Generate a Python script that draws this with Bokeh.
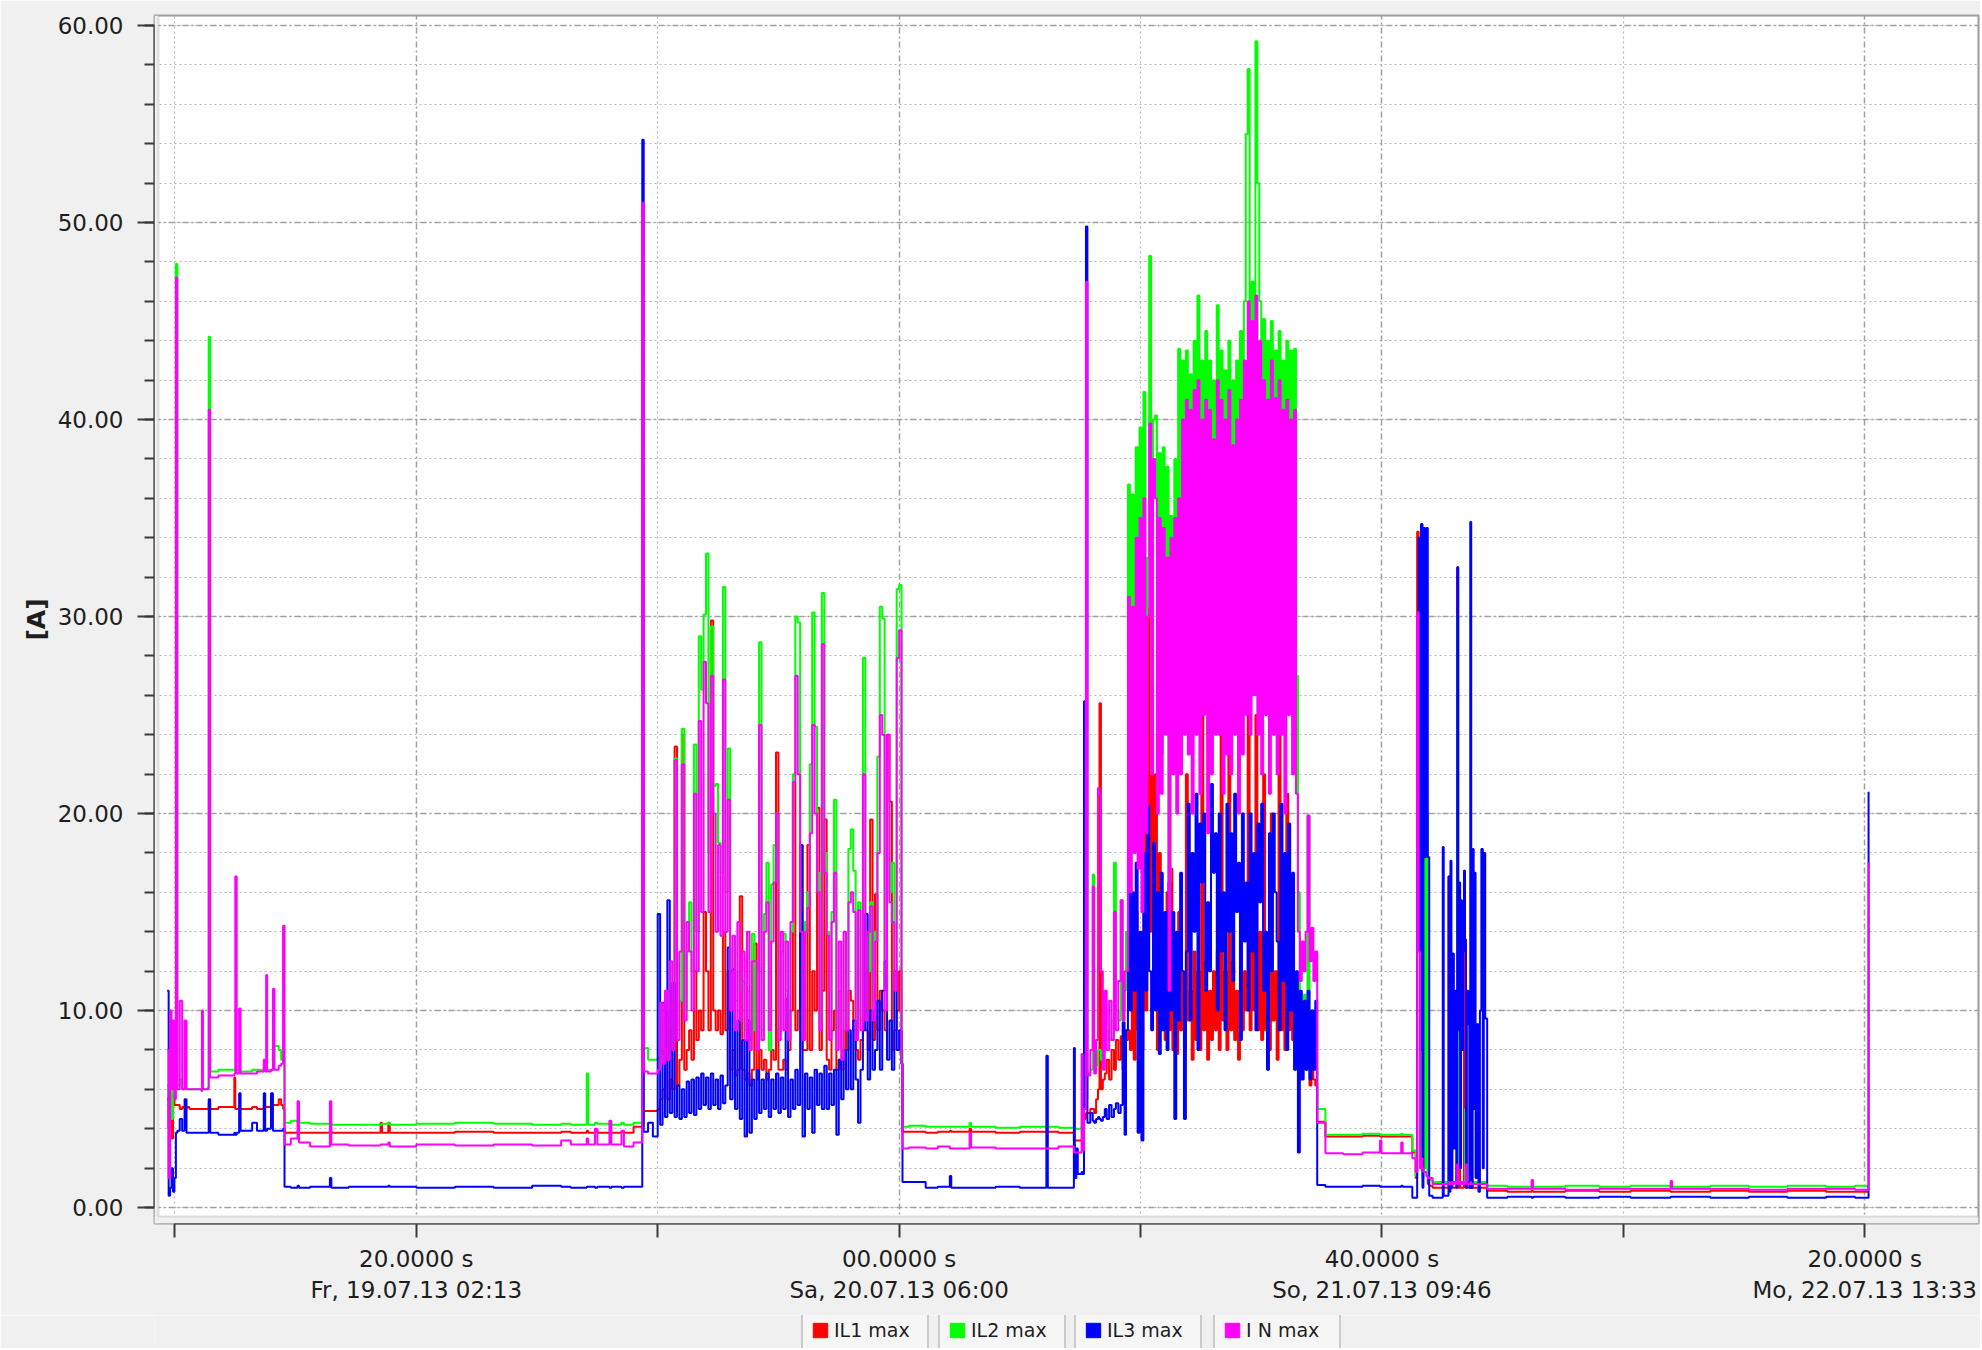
from bokeh.plotting import figure
from bokeh.layouts import column
from bokeh.models import (Range1d, FixedTicker, PrintfTickFormatter, BoxAnnotation,
                          Legend, LegendItem, ColumnDataSource)
from bokeh.embed import file_html
from bokeh.resources import INLINE

# ---------------------------------------------------------------- labels / ticks
SERIES = ["IL1 max", "IL2 max", "IL3 max", "I N max"]
COLORS = ["#ff0000", "#00ff00", "#0000ff", "#ff00ff"]
Y_LABEL = "[A]"
# time axis in ks (1000 s) after Do 18.07.13 12:20:00
X_TICKS = [0, 50, 100, 150, 200, 250, 300, 350]
X_TICK_LABELS = {0: "", 50: "20.0000 s\nFr, 19.07.13 02:13", 100: "",
                 150: "00.0000 s\nSa, 20.07.13 06:00", 200: "",
                 250: "40.0000 s\nSo, 21.07.13 09:46", 300: "",
                 350: "20.0000 s\nMo, 22.07.13 13:33"}
X_GRID_MAJOR = [50, 150, 250, 350]
X_GRID_MINOR = [0, 100, 200, 300]
Y_TICKS = [0, 10, 20, 30, 40, 50, 60]
Y_MINOR = [0, 2, 4, 6, 8, 10, 12, 14, 16, 18, 20, 22, 24, 26, 28, 30, 32, 34, 36,
           38, 40, 42, 44, 46, 48, 50, 52, 54, 56, 58, 60]

# ---------------------------------------------------------------- data
# A: start (explicit times, ks)
A_T   = [-1.6, -1.3, -1.0, -0.7, -0.4, -0.1, 0.2, 0.5, 1.0, 1.5, 2.0, 2.4, 3.0, 5.5, 5.6, 5.8, 6.8, 7.0, 7.3,
         9.0, 12.3, 12.5, 12.8, 13.3, 13.6, 16.0, 17.0, 18.4, 18.7, 18.9, 19.1, 19.9, 20.3, 20.6, 21.5, 22.0, 22.4]
A_IL1 = [5.5, 4.0, 5.8, 3.5, 5.5, 5.2, 5.2, 5.2, 5.0, 5.1, 5.0, 5.1, 5.0, 5.0, 5.0, 5.0, 5.0, 5.3, 5.0,
         5.1, 6.6, 5.0, 5.0, 5.0, 5.0, 5.1, 5.0, 5.2, 5.1, 5.1, 5.1, 5.2, 5.2, 5.2, 5.5, 5.2, 5.0]
A_IL2 = [6.2, 5.0, 6.5, 4.5, 6.0, 6.2, 47.9, 6.2, 6.5, 6.0, 6.0, 6.0, 6.0, 6.0, 6.0, 6.0, 6.1, 44.2, 6.9,
         7.0, 7.0, 7.0, 7.0, 7.0, 6.9, 7.0, 7.0, 7.0, 7.0, 7.0, 7.0, 7.0, 7.0, 8.2, 8.0, 7.5, 7.6]
A_IL3 = [11.0, 0.6, 1.0, 2.0, 0.8, 1.5, 3.8, 3.9, 4.5, 3.9, 5.5, 3.8, 3.8, 3.8, 3.8, 3.8, 3.8, 5.5, 3.8,
         3.7, 3.8, 3.7, 3.8, 5.8, 3.9, 4.3, 3.9, 5.8, 3.9, 3.9, 4.0, 5.8, 3.9, 3.9, 3.9, 3.9, 4.0]
A_IN  = [8.0, 1.5, 10.0, 6.0, 9.5, 5.5, 47.2, 6.0, 10.5, 6.0, 9.5, 6.0, 6.0, 5.9, 10.0, 6.0, 6.0, 40.5, 6.6,
         6.7, 6.8, 16.8, 6.8, 10.1, 6.8, 6.8, 6.9, 7.5, 6.9, 11.8, 6.9, 7.0, 11.1, 7.0, 7.2, 7.3, 14.3]

# B: night 1 (explicit times)
B_T   = [22.7, 24.0, 25.4, 25.7, 28.0, 32.1, 32.4, 36.0, 42.6, 42.9, 44.2, 44.5, 50.0, 58.0, 66.0, 74.0,
         80.0, 82.0, 85.3, 85.6, 87.0, 87.5, 90.0, 90.4, 92.5, 93.0, 95.0, 96.8, 97.1, 98.0, 99.0]
B_IL1 = [3.8, 3.8, 3.9, 3.8, 3.8, 3.9, 3.8, 3.8, 4.3, 3.8, 4.3, 3.8, 3.8, 3.85, 3.8, 3.8,
         3.85, 3.8, 3.9, 3.8, 3.9, 3.8, 3.8, 3.8, 3.85, 3.8, 4.1, 4.2, 4.9, 4.9, 4.9]
B_IL2 = [4.3, 4.4, 4.3, 4.3, 4.25, 4.3, 4.2, 4.2, 4.2, 4.25, 4.3, 4.2, 4.25, 4.3, 4.25, 4.2,
         4.25, 4.2, 6.8, 4.2, 4.3, 4.25, 4.2, 4.2, 4.3, 4.2, 4.3, 4.3, 8.1, 7.5, 7.5]
B_IL3 = [1.05, 1.0, 1.1, 1.0, 1.05, 1.5, 1.0, 1.05, 1.05, 1.05, 1.1, 1.05, 1.0, 1.05, 1.0, 1.1,
         1.05, 1.0, 1.05, 1.05, 1.0, 1.05, 1.0, 1.05, 1.0, 1.05, 1.05, 54.2, 3.85, 4.3, 3.6]
B_IN  = [3.2, 3.5, 5.4, 3.3, 3.1, 5.4, 3.2, 3.15, 3.2, 3.2, 3.3, 3.1, 3.2, 3.15, 3.2, 3.15,
         3.4, 3.2, 3.5, 3.2, 4.0, 3.2, 4.4, 3.2, 3.9, 3.1, 3.3, 51.0, 6.9, 6.8, 6.8]

# C: day 1, logged every C_DT ks from C_T0
C_T0, C_DT = 100.0, 0.5
C_IL1 = [5.0, 5.5, 6.0, 9.9, 5.5, 6.5, 6.0, 23.4, 6.2, 7.5,
         24.0, 7.0, 8.0, 9.0, 7.5, 12.0, 8.5, 10.0, 9.0, 15.0,
         12.0, 9.0, 29.8, 10.0, 9.0, 10.0, 8.8, 14.0, 9.0, 12.0,
         7.0, 8.0, 6.7, 7.0, 15.8, 7.0, 6.5, 6.8, 6.2, 7.0,
         13.4, 6.5, 8.0, 7.0, 7.5, 6.5, 7.0, 8.0, 7.5, 23.1,
         7.0, 7.0, 7.5, 7.0, 8.0, 10.0, 21.6, 9.0, 10.0, 18.4,
         8.0, 8.0, 18.4, 8.0, 12.0, 10.0, 20.3, 8.0, 11.0, 19.7,
         7.5, 7.0, 9.0, 10.0, 7.0, 7.5, 7.0, 9.0, 8.0, 11.0,
         10.5, 9.0, 8.0, 7.5, 8.5, 10.0, 9.0, 8.0, 19.7, 8.5,
         15.9, 9.0, 11.0, 10.0, 9.0, 24.0, 20.6, 8.0, 9.0, 10.0,
         12.0, 7.3]
C_IL2 = [7.6, 8.0, 7.8, 9.5, 8.2, 9.0, 8.0, 22.8, 9.0, 10.5,
         24.3, 10.0, 13.0, 15.5, 12.0, 23.5, 14.0, 29.0, 26.3, 30.1,
         33.2, 18.0, 29.5, 21.4, 21.5, 18.5, 17.0, 31.5, 16.0, 23.3,
         12.0, 13.5, 10.5, 12.0, 11.0, 11.5, 9.0, 11.0, 8.5, 13.9,
         9.0, 12.0, 28.7, 9.0, 14.9, 17.5, 8.0, 16.4, 18.4, 20.0,
         9.0, 13.0, 13.9, 11.0, 8.5, 14.0, 22.0, 30.0, 29.7, 15.0,
         9.0, 14.5, 16.0, 22.5, 30.2, 24.4, 17.0, 9.5, 31.2, 18.0,
         14.0, 9.0, 15.0, 20.7, 9.0, 11.0, 8.0, 13.5, 9.5, 18.2,
         19.2, 17.1, 9.0, 15.5, 9.5, 27.9, 10.0, 12.0, 15.5, 10.0,
         14.0, 22.9, 30.5, 29.9, 11.0, 20.0, 16.0, 17.5, 12.0, 31.4,
         31.6, 8.0]
C_IL3 = [14.9, 4.2, 10.4, 4.6, 15.6, 4.8, 11.4, 4.6, 6.2, 4.5,
         6.0, 4.6, 6.4, 4.8, 6.5, 4.7, 6.6, 5.0, 6.8, 5.2,
         6.6, 5.0, 6.8, 5.2, 6.5, 5.0, 6.7, 5.3, 6.2, 13.2,
         5.5, 12.1, 5.0, 9.5, 4.5, 8.5, 3.6, 9.5, 3.8, 6.5,
         4.5, 7.0, 4.8, 6.5, 5.0, 6.8, 4.6, 6.5, 5.0, 6.8,
         4.8, 6.6, 5.0, 10.6, 4.6, 6.5, 5.0, 7.0, 5.2, 18.4,
         3.6, 6.8, 5.0, 6.6, 3.8, 7.0, 5.2, 6.8, 5.0, 7.2,
         5.0, 6.8, 5.2, 7.0, 3.7, 7.5, 5.5, 8.0, 6.0, 9.0,
         6.0, 9.5, 6.5, 4.3, 7.0, 9.0, 14.9, 6.5, 10.0, 7.0,
         8.0, 10.5, 7.0, 11.0, 12.5, 7.5, 9.5, 7.0, 12.0, 8.0,
         9.0, 7.3]
C_IN  = [7.0, 10.4, 7.3, 11.0, 7.5, 12.5, 8.0, 22.7, 8.5, 13.0,
         22.5, 9.5, 14.5, 13.0, 10.0, 21.0, 12.0, 24.7, 15.0, 27.7,
         25.6, 15.0, 27.0, 20.0, 14.0, 18.4, 13.8, 26.8, 14.0, 20.7,
         10.0, 13.8, 9.0, 14.5, 9.5, 13.0, 8.5, 14.0, 8.0, 12.5,
         12.5, 8.0, 24.5, 8.5, 14.0, 15.5, 9.0, 13.5, 16.5, 20.0,
         8.5, 14.0, 9.0, 13.5, 8.5, 14.5, 21.6, 27.0, 22.0, 14.0,
         8.5, 14.0, 15.2, 19.0, 24.5, 20.0, 16.0, 9.0, 28.6, 17.0,
         13.8, 8.5, 14.5, 17.0, 8.0, 13.5, 7.5, 14.0, 9.0, 15.5,
         16.0, 15.0, 8.5, 15.1, 9.0, 22.0, 9.5, 14.0, 15.3, 9.5,
         13.5, 18.0, 25.0, 24.0, 10.0, 24.0, 15.5, 14.5, 11.0, 27.9,
         29.3, 7.3]

# D: night 2 (explicit times)
D_T   = [150.7, 152.0, 155.5, 158.0, 160.5, 160.8, 164.6, 164.9, 170.0, 175.0, 180.5, 180.8, 183.0]
D_IL1 = [3.85, 3.85, 3.8, 3.85, 3.9, 3.85, 4.0, 3.85, 3.8, 3.85, 3.85, 3.85, 3.8]
D_IL2 = [4.1, 4.15, 4.1, 4.1, 4.1, 4.1, 4.3, 4.1, 4.05, 4.1, 4.1, 4.1, 4.05]
D_IL3 = [1.3, 1.3, 1.0, 1.05, 1.6, 1.0, 1.0, 1.0, 1.05, 1.0, 7.7, 1.0, 1.0]
D_IN  = [3.0, 3.05, 3.0, 3.1, 3.0, 3.0, 3.8, 3.05, 3.0, 3.0, 3.0, 3.0, 3.1]

# E1: morning ramp day 2 (explicit times)
E1_T   = [186.2, 186.4, 186.7, 187.0, 187.8, 188.0, 188.3, 188.7, 189.0, 189.6, 190.1, 190.4, 190.8, 191.2,
          191.5, 191.8, 192.2, 192.6, 193.0, 193.5, 194.0, 194.5, 194.9, 195.4, 195.9, 196.3, 196.7]
E1_IL1 = [3.4, 3.4, 3.4, 3.4, 3.5, 3.5, 4.5, 4.8, 4.8, 5.0, 5.0, 4.8, 5.5, 6.0,
          25.6, 6.0, 6.5, 6.8, 7.5, 6.5, 8.0, 7.0, 8.5, 7.5, 8.7, 7.0, 8.5]
E1_IL2 = [4.0, 4.0, 4.0, 4.0, 4.1, 4.0, 5.0, 5.5, 6.8, 7.0, 16.9, 7.0, 7.2, 8.0,
          8.0, 7.5, 8.0, 8.5, 9.0, 8.5, 9.5, 17.5, 10.0, 9.5, 15.6, 10.0, 11.0]
E1_IL3 = [8.1, 1.5, 3.0, 1.7, 1.8, 1.7, 25.7, 49.8, 4.3, 4.8, 4.4, 4.3, 4.5, 4.6,
          4.5, 4.4, 4.6, 5.0, 4.5, 5.2, 4.6, 5.0, 5.3, 4.8, 5.2, 9.4, 3.7]
E1_IN  = [2.8, 2.8, 2.8, 2.8, 7.8, 2.9, 5.0, 47.0, 6.7, 8.0, 16.3, 6.8, 8.5, 21.3,
          21.0, 12.0, 7.0, 11.0, 8.0, 10.5, 8.5, 15.0, 9.0, 11.5, 15.6, 9.5, 12.0]

# E2: day 2 busy period, logged every E2_DT ks from E2_T0
E2_T0, E2_DT = 197.0, 0.4
E2_IL1 = [8.5, 9.0, 8.0, 12.0, 7.5, 15.0, 9.0, 11.0, 8.0, 20.0,
          10.0, 30.4, 14.0, 26.6, 11.0, 22.0, 8.0, 18.0, 9.0, 13.0,
          8.5, 16.0, 9.0, 17.2, 8.0, 12.0, 7.8, 15.0, 9.0, 12.0,
          8.0, 22.0, 9.5, 11.0, 7.5, 13.0, 8.5, 12.0, 8.0, 28.0,
          9.0, 12.5, 7.5, 11.0, 8.5, 12.0, 9.0, 13.0, 8.0, 25.0,
          9.5, 12.0, 8.0, 30.2, 9.0, 12.5, 8.5, 11.0, 7.5, 14.0,
          9.0, 12.0, 10.0, 27.7, 9.0, 13.0, 10.0, 25.0, 9.0, 14.0,
          8.5, 22.0, 9.0, 12.0, 8.0, 20.0, 9.5, 12.0, 7.5, 26.0,
          9.0, 13.0, 8.0, 21.0, 9.0, 12.0, 8.5, 11.0, 7.5]
E2_IL2 = [14.0, 36.7, 18.0, 36.2, 20.0, 38.6, 19.0, 39.6, 17.0, 41.4,
          22.0, 33.0, 48.3, 24.0, 40.0, 40.2, 23.0, 38.3, 23.0, 38.6,
          26.0, 37.6, 14.0, 35.1, 25.0, 38.0, 23.0, 43.6, 28.0, 43.0,
          27.0, 43.5, 30.0, 42.3, 25.0, 44.0, 29.0, 46.3, 28.0, 43.0,
          31.0, 44.5, 24.0, 43.0, 29.0, 42.0, 27.0, 45.8, 32.0, 43.5,
          26.0, 42.5, 30.0, 44.0, 28.0, 42.0, 31.0, 43.0, 25.0, 44.5,
          29.0, 46.0, 54.5, 57.8, 31.0, 47.0, 35.0, 59.2, 52.0, 46.0,
          29.0, 45.1, 36.0, 44.0, 27.0, 45.0, 32.0, 43.5, 28.0, 44.5,
          34.0, 43.0, 25.0, 44.0, 33.0, 43.5, 29.0, 43.6, 27.0]
E2_IL3 = [9.0, 18.2, 10.0, 16.0, 11.0, 17.5, 3.8, 14.0, 3.4, 18.0,
          11.0, 20.4, 12.0, 9.0, 18.5, 10.0, 16.0, 7.8, 17.0, 9.0,
          15.0, 8.0, 16.5, 10.0, 15.0, 4.5, 14.0, 9.5, 17.0, 12.0,
          4.5, 13.0, 20.5, 9.5, 18.0, 14.0, 21.0, 8.0, 19.5, 16.5,
          20.0, 11.0, 15.5, 12.0, 21.5, 17.0, 19.0, 10.0, 20.0, 13.0,
          16.0, 9.0, 20.5, 14.0, 19.0, 11.5, 21.0, 15.0, 17.5, 8.5,
          20.0, 13.5, 16.5, 10.0, 20.0, 13.0, 18.0, 9.0, 19.5, 15.5,
          20.5, 11.0, 14.0, 7.0, 19.0, 12.0, 20.0, 16.0, 13.5, 9.0,
          20.5, 11.5, 18.0, 8.0, 19.5, 10.0, 17.0, 7.0, 12.0]
E2_IN  = [12.0, 31.0, 16.0, 30.5, 18.0, 34.0, 17.2, 35.0, 15.0, 36.0,
          19.0, 30.0, 39.8, 22.0, 38.0, 36.0, 20.0, 35.0, 21.0, 34.5,
          24.0, 33.0, 11.0, 34.0, 22.0, 35.0, 20.0, 36.0, 22.0, 40.0,
          24.0, 41.0, 23.0, 40.5, 20.0, 41.5, 24.0, 42.0, 21.0, 40.0,
          25.0, 41.0, 19.0, 40.5, 22.0, 39.0, 24.0, 42.0, 24.0, 41.0,
          21.0, 40.0, 23.0, 41.5, 22.0, 38.7, 24.0, 40.0, 20.0, 41.0,
          23.0, 43.0, 25.0, 46.0, 24.0, 45.0, 26.0, 46.3, 24.0, 44.0,
          22.0, 42.0, 25.0, 41.0, 21.0, 43.0, 24.0, 41.1, 22.0, 42.0,
          24.0, 40.5, 20.0, 41.0, 25.0, 40.0, 22.0, 40.5, 21.0]

# E3: evening tail day 2 (explicit times)
E3_T   = [232.6, 233.0, 233.4, 233.8, 234.2, 234.6, 235.0, 235.4, 235.8, 236.2]
E3_IL1 = [7.0, 6.5, 7.5, 8.5, 7.0, 7.5, 6.2, 7.0, 6.5, 6.2]
E3_IL2 = [16.0, 10.0, 8.0, 10.8, 7.0, 19.9, 8.0, 10.0, 7.5, 7.0]
E3_IL3 = [2.8, 11.0, 6.5, 10.5, 7.0, 11.0, 6.5, 10.0, 7.0, 10.5]
E3_IN  = [14.0, 11.5, 13.5, 12.0, 14.0, 19.9, 12.5, 14.2, 11.5, 13.0]

# F: night 3
F_T   = [236.6, 238.3, 242.0, 246.0, 249.6, 249.9, 254.0, 254.3, 256.3]
F_IL1 = [4.35, 3.6, 3.6, 3.65, 3.6, 3.6, 3.6, 3.6, 2.8]
F_IL2 = [5.0, 3.7, 3.7, 3.75, 3.7, 3.7, 3.75, 3.7, 2.9]
F_IL3 = [1.15, 1.05, 1.05, 1.1, 1.05, 1.05, 1.1, 1.05, 0.5]
F_IN  = [4.3, 2.75, 2.7, 2.8, 3.4, 2.75, 3.3, 2.75, 2.5]

# G: short bursts day 3
G_T   = [257.0, 257.3, 257.6, 257.9, 258.1, 258.4, 258.6, 258.9, 259.2, 259.5, 259.8, 260.5,
         262.6, 262.8, 263.8, 264.0, 264.2, 264.4, 264.6, 264.9, 265.2, 265.4, 265.6, 265.8,
         266.0, 266.2, 266.4, 266.6, 266.8, 267.0, 267.2, 267.4, 267.6, 267.9, 268.1, 268.3,
         268.5, 268.8, 269.0, 269.2, 269.4, 269.7, 270.0, 270.3, 270.6, 270.9, 271.1, 271.4]
G_IL1 = [1.5, 34.3, 18.6, 5.0, 18.0, 2.0, 14.0, 3.0, 15.0, 1.2, 1.1, 1.0,
         1.0, 1.0, 16.8, 1.0, 1.0, 1.0, 1.0, 1.0, 1.0, 1.0, 32.5, 1.0,
         15.6, 1.0, 1.0, 1.0, 1.0, 17.1, 13.6, 1.0, 1.0, 1.0, 1.0, 1.0,
         1.0, 1.0, 1.0, 1.0, 1.0, 1.0, 1.0, 1.0, 1.0, 1.0, 1.0, 1.0]
G_IL2 = [1.6, 18.0, 15.0, 3.0, 32.1, 1.5, 28.0, 2.0, 20.0, 1.5, 1.4, 1.3,
         1.3, 1.3, 1.3, 1.3, 1.3, 1.3, 1.3, 1.3, 1.3, 1.3, 30.0, 1.3,
         1.3, 1.3, 1.3, 1.3, 1.3, 1.3, 5.0, 1.3, 1.3, 1.3, 1.3, 1.3,
         1.3, 1.3, 1.3, 1.3, 1.3, 1.3, 1.3, 1.3, 1.3, 1.3, 1.3, 1.3]
G_IL3 = [0.5, 18.0, 34.0, 8.0, 34.7, 1.0, 34.5, 17.8, 34.5, 17.8, 0.6, 0.5,
         18.3, 0.6, 16.8, 0.8, 17.6, 1.0, 12.9, 3.0, 11.0, 1.0, 32.5, 9.0,
         16.5, 2.0, 15.6, 8.0, 13.0, 17.1, 13.6, 1.0, 11.0, 9.3, 1.0, 34.8,
         1.0, 18.2, 5.0, 17.0, 1.5, 9.3, 0.8, 10.0, 18.2, 2.0, 18.0, 9.6]
G_IN  = [1.8, 30.2, 13.0, 2.0, 2.5, 2.0, 1.8, 1.8, 1.6, 1.5, 1.5, 1.2,
         1.2, 1.2, 1.3, 1.2, 1.2, 1.3, 1.2, 1.3, 1.2, 1.3, 2.2, 1.2,
         1.3, 1.2, 1.3, 1.2, 1.3, 1.2, 1.3, 2.2, 1.2, 1.2, 1.2, 1.3,
         1.2, 1.2, 1.2, 1.2, 1.2, 1.2, 1.2, 1.2, 1.2, 1.2, 1.2, 1.2]

# H: idle until the end
H_T   = [271.8, 276.0, 281.0, 281.3, 288.0, 295.0, 301.5, 309.8, 310.1, 318.0, 326.0, 334.0, 342.0, 348.0, 350.5, 350.8]
H_IL1 = [0.85, 0.8, 0.85, 0.8, 0.85, 0.8, 0.85, 0.8, 0.8, 0.85, 0.8, 0.85, 0.8, 0.8, 0.8, 0.8]
H_IL2 = [1.1, 1.05, 1.1, 1.05, 1.1, 1.05, 1.1, 1.05, 1.05, 1.1, 1.05, 1.1, 1.05, 1.1, 1.05, 1.05]
H_IL3 = [0.5, 0.55, 0.5, 0.55, 0.5, 0.55, 0.5, 0.55, 0.55, 0.5, 0.55, 0.5, 0.55, 0.5, 0.5, 21.1]
H_IN  = [0.95, 0.95, 1.4, 0.95, 0.9, 0.95, 0.95, 1.35, 0.95, 0.95, 0.9, 0.95, 0.95, 0.9, 0.9, 17.5]

# ---------------------------------------------------------------- assemble
def regular(t0, dt, n):
    return [round(t0 + dt * i, 3) for i in range(n)]

blocks = [
    ("A", A_T, A_IL1, A_IL2, A_IL3, A_IN),
    ("B", B_T, B_IL1, B_IL2, B_IL3, B_IN),
    ("C", regular(C_T0, C_DT, len(C_IL1)), C_IL1, C_IL2, C_IL3, C_IN),
    ("D", D_T, D_IL1, D_IL2, D_IL3, D_IN),
    ("E1", E1_T, E1_IL1, E1_IL2, E1_IL3, E1_IN),
    ("E2", regular(E2_T0, E2_DT, len(E2_IL1)), E2_IL1, E2_IL2, E2_IL3, E2_IN),
    ("E3", E3_T, E3_IL1, E3_IL2, E3_IL3, E3_IN),
    ("F", F_T, F_IL1, F_IL2, F_IL3, F_IN),
    ("G", G_T, G_IL1, G_IL2, G_IL3, G_IN),
    ("H", H_T, H_IL1, H_IL2, H_IL3, H_IN),
]
T, S1, S2, S3, S4 = [], [], [], [], []
for name, t, a, b, c, d in blocks:
    lens = [len(t), len(a), len(b), len(c), len(d)]
    if len(set(lens)) != 1:
        raise ValueError(f"block {name} length mismatch {lens}")
    T += t; S1 += a; S2 += b; S3 += c; S4 += d

src = ColumnDataSource(data=dict(t=T, il1=S1, il2=S2, il3=S3, inn=S4))

# ---------------------------------------------------------------- main figure
FONT = "DejaVu Sans"
TXT = "#1e1e1e"
BG = "#f0f0f0"
W = 1980
p = figure(width=W, height=1315,
           x_range=Range1d(-4.23, 373.57), y_range=Range1d(-0.81, 60.51),
           min_border_left=154, min_border_top=15, min_border_bottom=92, min_border_right=2,
           output_backend="svg", toolbar_location=None,
           background_fill_color="white", border_fill_color=BG)
p.outline_line_color = "#a0a0a0"
p.outline_line_width = 2

for col, c in zip(["il1", "il2", "il3", "inn"], COLORS):
    p.step(x="t", y=col, source=src, mode="after", line_color=c, line_width=2)

# grey gap between the axes and the plot box, and the box border
p.add_layout(BoxAnnotation(right=-3.4, fill_color=BG, fill_alpha=1.0, line_color=None))
p.add_layout(BoxAnnotation(top=-0.46, fill_color=BG, fill_alpha=1.0, line_color=None))
p.add_layout(BoxAnnotation(left=-3.4, bottom=-0.46, fill_alpha=0.0,
                           line_color="#a0a0a0", line_width=2))

xa = p.xaxis[0]
xa.ticker = FixedTicker(ticks=X_TICKS)
xa.major_label_overrides = X_TICK_LABELS
xa.bounds = (0, 350)
xa.major_tick_out = 14
xa.major_tick_in = 0
xa.major_label_standoff = 8
xa.major_label_text_line_height = 1.22

ya = p.yaxis[0]
ya.ticker = FixedTicker(ticks=Y_TICKS, minor_ticks=Y_MINOR)
ya.formatter = PrintfTickFormatter(format="%.2f")
ya.bounds = (0, 60)
ya.major_tick_out = 17
ya.major_tick_in = 0
ya.minor_tick_out = 10
ya.minor_tick_in = 0
ya.major_label_standoff = 14
ya.axis_label = Y_LABEL
ya.axis_label_text_font = FONT
ya.axis_label_text_font_style = "bold"
ya.axis_label_text_font_size = "25px"
ya.axis_label_text_color = TXT
ya.axis_label_standoff = 4

for ax in (xa, ya):
    ax.axis_line_color = "#3a3a3a"
    ax.axis_line_width = 2
    ax.major_tick_line_color = "#3a3a3a"
    ax.major_tick_line_width = 2
    ax.minor_tick_line_width = 2
    ax.minor_tick_line_color = "#3a3a3a" if ax is ya else None
    ax.major_label_text_font = FONT
    ax.major_label_text_font_size = "23px"
    ax.major_label_text_color = TXT

p.xgrid.ticker = FixedTicker(ticks=X_GRID_MAJOR, minor_ticks=X_GRID_MINOR)
p.ygrid.ticker = FixedTicker(ticks=Y_TICKS, minor_ticks=Y_MINOR)
for g in (p.xgrid[0], p.ygrid[0]):
    g.grid_line_color = "#a0a0a0"
    g.grid_line_width = 1.5
    g.grid_line_dash = "6 3 2 3"
    g.minor_grid_line_color = "#b8b8b8"
    g.minor_grid_line_width = 1.2
    g.minor_grid_line_dash = "2 3"

# ---------------------------------------------------------------- legend strip
LH = 33
q = figure(width=W, height=LH, x_range=Range1d(0, 1), y_range=Range1d(0, 1),
           x_axis_type=None, y_axis_type=None, min_border=0,
           output_backend="svg", toolbar_location=None,
           background_fill_color=BG, border_fill_color=BG, outline_line_color=None)
q.xgrid.visible = False
q.ygrid.visible = False
NAN = float("nan")
LEG_X = [647, 784, 920, 1059]   # offsets from the left edge of the aligned frame
for name, c, lx in zip(SERIES, COLORS, LEG_X):
    key = q.quad(left=[NAN], right=[NAN], top=[NAN], bottom=[NAN], fill_color=c, line_color=c)
    leg = Legend(items=[LegendItem(label=name, renderers=[key])], location=(lx, LH - 36),
                 orientation="horizontal", padding=8, spacing=0, margin=0,
                 glyph_width=18, glyph_height=18, label_standoff=5, label_width=85,
                 label_text_font=FONT, label_text_font_size="19px", label_text_color=TXT,
                 border_line_color="#a0a0a0", border_line_width=2,
                 background_fill_color="#f6f6f6", background_fill_alpha=1.0)
    q.add_layout(leg)

open("out.html", "w").write(file_html(column(p, q, spacing=0), INLINE))
